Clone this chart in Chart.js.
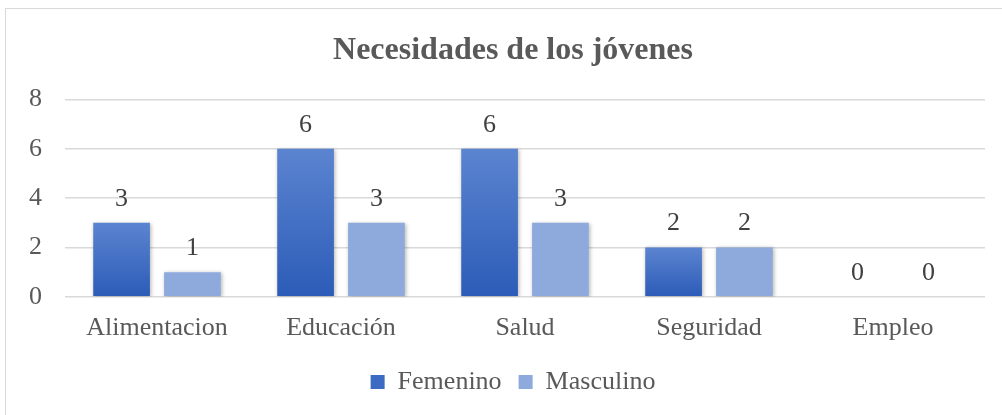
<!DOCTYPE html>
<html>
<head>
<meta charset="utf-8">
<script src="https://cdn.jsdelivr.net/npm/chart.js@4.4.1/dist/chart.umd.min.js"></script>
<style>
  html, body { margin: 0; padding: 0; background: #fff; }
  #wrap { position: relative; width: 1002px; height: 415px; overflow: hidden; }
  #frame { position: absolute; left: 5px; top: 8px; width: 1010px; height: 420px; border: 1px solid #d9d9d9; box-sizing: border-box; }
  canvas { position: absolute; left: 0; top: 0; }
</style>
</head>
<body>
<div id="wrap">
  <div id="frame"></div>
  <canvas id="chart" width="1026" height="415"></canvas>
</div>
<script>
const categories = ['Alimentacion', 'Educación', 'Salud', 'Seguridad', 'Empleo'];
const femenino = [3, 6, 6, 2, 0];
const masculino = [1, 3, 3, 2, 0];
const yTicks = [0, 2, 4, 6, 8];

const FONT = "'Liberation Serif', 'Times New Roman', serif";
const TEXT = '#595959';

function femFill(c){
  const chart = c.chart;
  if(!chart.chartArea) return '#4472c4';
  const y = chart.scales.y;
  const top = y.getPixelForValue(c.raw || 0.0001);
  const bot = y.getPixelForValue(0);
  const g = chart.ctx.createLinearGradient(0, top, 0, bot);
  g.addColorStop(0, '#5b84d0');
  g.addColorStop(1, '#2c5cb8');
  return g;
}

// sombra suave bajo las barras
const shadow = {
  id: 'shadow',
  beforeDatasetsDraw(chart){
    const ctx = chart.ctx;
    ctx.save();
    ctx.shadowColor = 'rgba(0,0,0,0.3)';
    ctx.shadowBlur = 4;
    ctx.shadowOffsetX = 1;
    ctx.shadowOffsetY = 1;
  },
  afterDatasetsDraw(chart){ chart.ctx.restore(); }
};

// etiquetas de valor encima de cada barra
const valueLabels = {
  id: 'valueLabels',
  afterDraw(chart){
    const ctx = chart.ctx;
    ctx.save();
    ctx.font = '26px ' + FONT;
    ctx.fillStyle = '#404040';
    ctx.textAlign = 'center';
    ctx.textBaseline = 'middle';
    chart.data.datasets.forEach((ds, i) => {
      chart.getDatasetMeta(i).data.forEach((bar, j) => {
        ctx.fillText(ds.data[j], bar.x, bar.y - 24);
      });
    });
    ctx.restore();
  }
};

const ctx = document.getElementById('chart').getContext('2d');
new Chart(ctx, {
  type: 'bar',
  data: {
    labels: categories,
    datasets: [{
      label: 'Femenino',
      data: femenino,
      backgroundColor: femFill,
      categoryPercentage: 0.77,
      barPercentage: 0.8
    }, {
      label: 'Masculino',
      data: masculino,
      backgroundColor: '#8eaadc',
      categoryPercentage: 0.77,
      barPercentage: 0.8
    }]
  },
  options: {
    responsive: false,
    animation: false,
    layout: { padding: { left: 0, right: 0, top: 0, bottom: 10 } },
    plugins: {
      title: {
        display: true,
        text: 'Necesidades de los jóvenes',
        color: TEXT,
        font: { family: FONT, size: 32, weight: 'bold', lineHeight: 1.2 },
        padding: { top: 32, bottom: 29 }
      },
      legend: {
        position: 'bottom',
        labels: {
          color: TEXT,
          font: { family: FONT, size: 26 },
          boxWidth: 14,
          boxHeight: 14,
          padding: 17,
          generateLabels(chart){
            return [
              { text: 'Femenino', fillStyle: '#3d6bc4', strokeStyle: '#3d6bc4', lineWidth: 0, datasetIndex: 0, fontColor: TEXT },
              { text: 'Masculino', fillStyle: '#8eaadc', strokeStyle: '#8eaadc', lineWidth: 0, datasetIndex: 1, fontColor: TEXT }
            ];
          }
        }
      },
      tooltip: { enabled: false }
    },
    scales: {
      x: {
        grid: { display: false },
        border: { display: false },
        ticks: { color: TEXT, font: { family: FONT, size: 26 }, padding: 8 }
      },
      y: {
        min: 0,
        max: 8,
        afterBuildTicks(scale){ scale.ticks = yTicks.map(v => ({ value: v })); },
        afterFit(scale){ scale.width = 65; },
        grid: { color: '#d9d9d9', lineWidth: 1.5, drawTicks: false },
        border: { display: false },
        ticks: { color: TEXT, font: { family: FONT, size: 26 }, padding: 23 }
      },
      // eje vacío a la derecha: solo reserva espacio para centrar título y leyenda
      yRight: {
        position: 'right',
        min: 0,
        max: 8,
        afterFit(scale){ scale.width = 41; },
        grid: { display: false },
        border: { display: false },
        ticks: { display: false }
      }
    }
  },
  plugins: [shadow, valueLabels]
});
</script>
</body>
</html>
